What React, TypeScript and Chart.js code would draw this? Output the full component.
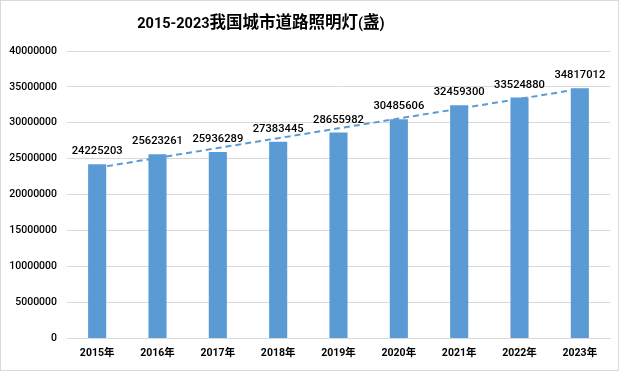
import React, { useEffect, useRef } from "react";
import { Chart, registerables } from "chart.js";

Chart.register(...registerables);

const TITLE = "2015-2023我国城市道路照明灯(盏)";
const CATEGORIES = ["2015年", "2016年", "2017年", "2018年", "2019年", "2020年", "2021年", "2022年", "2023年"];
const VALUES = [24225203, 25623261, 25936289, 27383445, 28655982, 30485606, 32459300, 33524880, 34817012];
const Y_MIN = 0;
const Y_MAX = 40000000;
const Y_STEP = 5000000;

// Linear trendline (least squares) from the series, like the spreadsheet trendline
function trendline(values: number[]): number[] {
  const n = values.length;
  const mx = (n - 1) / 2;
  const my = values.reduce((a, b) => a + b, 0) / n;
  let sxy = 0;
  let sxx = 0;
  values.forEach((v, i) => {
    sxy += (i - mx) * (v - my);
    sxx += (i - mx) * (i - mx);
  });
  const slope = sxy / sxx;
  const intercept = my - slope * mx;
  return values.map((_, i) => intercept + slope * i);
}

const FONT = "Roboto, 'Noto Sans CJK SC', sans-serif";
const CJK = "'Noto Sans CJK SC', sans-serif";
const BLUE = "#5B9BD5";

function drawTitle(ctx: CanvasRenderingContext2D, text: string, cx: number, cy: number) {
  const runs: { t: string; cjk: boolean }[] = [];
  for (const ch of text) {
    const cjk = /[\u3000-\u9fff]/.test(ch);
    const last = runs[runs.length - 1];
    if (last && last.cjk === cjk) last.t += ch;
    else runs.push({ t: ch, cjk });
  }
  const fontFor = (cjk: boolean) => (cjk ? `bold 16.5px ${CJK}` : `bold 14.5px ${FONT}`);
  let total = 0;
  const widths = runs.map((r) => {
    ctx.font = fontFor(r.cjk);
    const w = ctx.measureText(r.t).width;
    total += w;
    return w;
  });
  let x = cx - total / 2;
  ctx.textAlign = "left";
  ctx.textBaseline = "alphabetic";
  runs.forEach((r, i) => {
    ctx.font = fontFor(r.cjk);
    ctx.fillText(r.t, x, cy + 6);
    x += widths[i];
  });
}

export default function App() {
  const ref = useRef<HTMLCanvasElement>(null);
  useEffect(() => {
    document.body.style.margin = "0";
    const canvas = ref.current!;
    const framePlugin = {
      id: "frame",
      beforeDraw(chart: any) {
        const ctx = chart.ctx;
        ctx.save();
        ctx.fillStyle = "#ffffff";
        ctx.fillRect(0, 0, chart.width, chart.height);
        ctx.strokeStyle = "#d9d9d9";
        ctx.lineWidth = 1;
        ctx.strokeRect(0.5, 0.5, chart.width - 1, chart.height - 1);
        ctx.restore();
      },
      afterDraw(chart: any) {
        const ctx = chart.ctx;
        ctx.save();
        ctx.fillStyle = "#000000";
        drawTitle(ctx, TITLE, 261, 22);
        ctx.restore();
      },
    };
    const labelPlugin = {
      id: "barLabels",
      afterDatasetsDraw(chart: any) {
        const ctx = chart.ctx;
        const meta = chart.getDatasetMeta(0);
        ctx.save();
        ctx.fillStyle = "#000000";
        ctx.font = `500 11.2px ${FONT}`;
        ctx.textAlign = "center";
        ctx.textBaseline = "alphabetic";
        meta.data.forEach((el: any, i: number) => {
          ctx.fillText(String(VALUES[i]), el.x, el.y - 10);
        });
        ctx.restore();
      },
    };
    const chart = new Chart(canvas, {
      type: "bar",
      data: {
        labels: CATEGORIES,
        datasets: [
          {
            type: "bar",
            data: VALUES,
            backgroundColor: BLUE,
            barPercentage: 0.3,
            categoryPercentage: 1,
            order: 1,
          },
          {
            type: "line",
            data: trendline(VALUES),
            borderColor: BLUE,
            borderWidth: 2,
            borderDash: [6, 4],
            pointRadius: 0,
            fill: false,
            order: 0,
          } as any,
        ],
      },
      options: {
        animation: false,
        responsive: false,
        maintainAspectRatio: false,
        layout: { padding: { top: 51, right: 9, bottom: 2, left: 9 } },
        plugins: {
          legend: { display: false },
          title: { display: false },
          tooltip: { enabled: false },
        },
        scales: {
          x: {
            grid: { display: false, drawTicks: false },
            border: { display: true, color: "#d9d9d9" },
            ticks: { color: "#000", font: { family: FONT, size: 10.5, weight: "bold" }, padding: 9 },
          },
          y: {
            min: Y_MIN,
            max: Y_MAX,
            grid: { color: "#d9d9d9", drawTicks: false },
            border: { display: false },
            afterFit: (scale: any) => {
              scale.width = 58;
            },
            ticks: {
              stepSize: Y_STEP,
              color: "#000",
              font: { family: FONT, size: 10.5, weight: "500" },
              padding: 10,
              callback: (v: any) => String(v),
            },
          },
        },
      },
      plugins: [framePlugin, labelPlugin],
    });
    return () => chart.destroy();
  }, []);
  return (
    <div style={{ position: "fixed", left: 0, top: 0, width: 619, height: 371 }}>
      <canvas ref={ref} width={619} height={371} style={{ width: 619, height: 371, display: "block" }} />
    </div>
  );
}
